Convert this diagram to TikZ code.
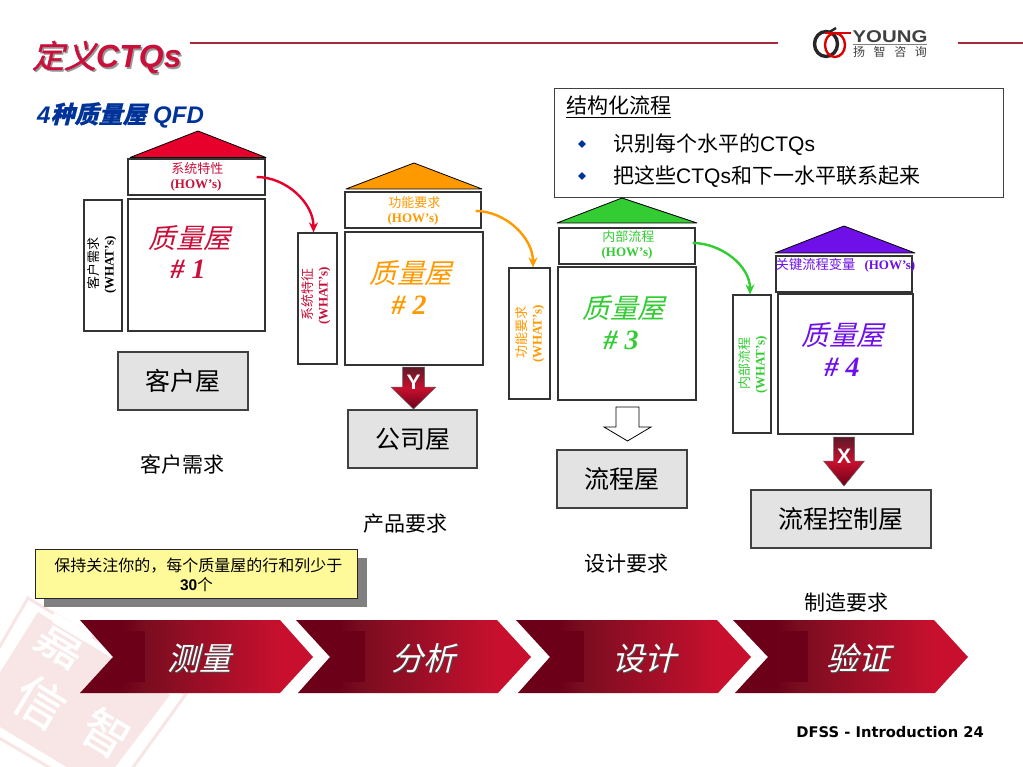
\documentclass[tikz,border=0pt]{standalone}
\usepackage{fontspec}
\usetikzlibrary{calc,arrows.meta}
\setmainfont{Liberation Sans}
\newfontfamily\cjk{Noto Sans CJK SC}
\newfontfamily\cjkit[FakeSlant=0.25]{Noto Sans CJK SC}
\newfontfamily\cjkbi[FakeSlant=0.25,FakeBold=1.5]{Noto Sans CJK SC}
\newfontfamily\cjksub[FakeSlant=0.25,FakeBold=0.6]{Noto Sans CJK SC}
\newfontfamily\cjkb[FakeBold=1]{Noto Sans CJK SC}
\newfontfamily\serifb[BoldFont={Liberation Serif Bold}]{Liberation Serif}
\newfontfamily\vera{DejaVu Sans}
\newcommand{\fs}[1]{\fontsize{#1}{#1}\selectfont}
\definecolor{qred}{HTML}{C8103A}
\definecolor{qorange}{HTML}{FF9900}
\definecolor{qgreen}{HTML}{33CC33}
\definecolor{qpurple}{HTML}{7010E8}
\definecolor{roofred}{HTML}{E8002D}
\definecolor{qblue}{HTML}{003399}
\definecolor{chd}{HTML}{6B0018}
\definecolor{chm}{HTML}{7A0D20}
\definecolor{chb}{HTML}{C8102E}
\definecolor{stamp}{HTML}{F8E6E6}
\definecolor{rule}{HTML}{A82A38}
\pgfdeclarehorizontalshading{chev}{100bp}{color(0bp)=(chd); color(34bp)=(chd); color(39bp)=(chm); color(68bp)=(chb); color(100bp)=(chb)}
\tikzset{
  rect/.style={draw=black!80,line width=1.2pt,fill=white,inner sep=0pt,align=center},
  grayhouse/.style={draw=black!75,line width=1.2pt,fill=black!11,inner sep=0pt,font=\cjk\fs{25}},
  howlabel/.style={inner sep=0pt,align=center,font=\fs{13}},
  whatlabel/.style={inner sep=0pt,align=center,rotate=90,font=\fs{13}},
  qfdname/.style={inner sep=0pt,font=\cjkit\fs{27.5}},
  qfdnum/.style={inner sep=0pt,font=\serifb\bfseries\itshape\fs{28}},
  caption/.style={inner sep=0pt,font=\cjk\fs{21}},
  roof/.style={draw=black,line width=0.8pt,line join=round},
  curved/.style={line width=2.4pt,-{Stealth[length=10pt,width=9pt]}},
  fatred/.style={draw=black!60,line width=.5pt,top color=chd!70!black!90,bottom color=chd,middle color=chb},
  fatletter/.style={inner sep=0pt,text=white,font=\bfseries\fs{21}},
  chevfill/.style={shading=chev,shading angle=0},
  chevtext/.style={inner sep=0pt,text=white,font=\cjkit\fs{32}},
  chevshadow/.style={inner sep=0pt,text=black!70,font=\cjkit\fs{32}},
  bullet/.style={fill=qblue,inner sep=0pt,rotate=45,minimum width=5.5pt,minimum height=5.5pt},
}
\begin{document}
\begin{tikzpicture}[x=1pt,y=-1pt]
\useasboundingbox (0,0) rectangle (1023,767);
\fill[white] (0,0) rectangle (1023,767);
% watermark stamp
\begin{scope}
\clip (0,0) rectangle (1023,767);
\draw[stamp,line width=3pt] (28,598) -- (186,694) -- (108,802) -- (-40,715) -- cycle;
\fill[stamp] (38,612) -- (170,695) -- (100,787) -- (-25,712) -- cycle;
\node[rotate=-31,text=white,font=\cjkb\fs{50}] (wm1) at (63,641) {嘉};
\node[rotate=-31,text=white,font=\cjkb\fs{50}] (wm2) at (40,702) {信};
\node[rotate=-31,text=white,font=\cjkb\fs{46}] (wm3) at (106,733) {智};
\end{scope}
% title
\draw[rule,line width=2pt] (190,43) -- (778,43);
\draw[rule,line width=2pt] (958,43) -- (1023,43);
\node[anchor=west,inner sep=0pt,text=black!40] (titleshadow) at (33.5,59) {\cjkbi\fs{32}定义\rmfamily\bfseries\itshape CTQs};
\node[anchor=west,inner sep=0pt,text=qred] (title) at (32,57.5) {\cjkbi\fs{32}定义\rmfamily\bfseries\itshape CTQs};
\node[anchor=west,inner sep=0pt,text=qblue] (sub) at (37,115) {\fs{24}\bfseries\itshape 4{\cjksub 种质量屋} QFD};
% logo
\draw[black!85,line width=3.4pt] (826,44) ellipse (11.5 and 12.5);
\draw[black!85,line width=2.4pt] (828,33) -- (836,28);
\draw[red!85!black,line width=2.4pt] (835,45) ellipse (10 and 12);
\draw[red!85!black,line width=2.4pt] (825,33) -- (851,33);
\node[inner sep=0pt,text=black!75,xscale=1.2,font=\bfseries\fs{17}] (young) at (890,37) {YOUNG};
\draw[black!50,line width=.6pt] (853,44.5) -- (927,44.5);
\node[inner sep=0pt,text=black!75,font=\cjk\fs{12}] (yz) at (890,52) {扬\hspace{8.6pt}智\hspace{8.6pt}咨\hspace{8.6pt}询};
% structured process box
\node[draw=black!75,line width=.9pt,fill=white,minimum width=449pt,minimum height=109pt,inner sep=0pt] (sbox) at (778.5,142.5) {};
\node[anchor=west,inner sep=0pt,font=\cjk\fs{21}] (shead) at (566,107) {\underline{结构化流程}};
\node[bullet] (b1) at (582,144) {};
\node[bullet] (b2) at (582,176) {};
\node[anchor=west,inner sep=0pt,font=\fs{21}] (l1) at (613,145) {{\cjk 识别每个水平的}CTQs};
\node[anchor=west,inner sep=0pt,font=\fs{21}] (l2) at (613,177) {{\cjk 把这些}CTQs{\cjk 和下一水平联系起来}};
% houses
\draw[roof,fill=roofred] (130,157.5) -- (198,131) -- (266,157.5) -- cycle;
\draw[roof,fill=qorange] (346,189) -- (414,163) -- (482,189) -- cycle;
\draw[roof,fill=qgreen] (557,223) -- (622,198) -- (697,223) -- cycle;
\draw[roof,fill=qpurple] (775,253) -- (844,226) -- (915,253) -- cycle;

\node[rect,minimum width=137pt,minimum height=36pt] (how1) at (196.5,177) {};
\node[rect,minimum width=137pt,minimum height=132pt] (main1) at (196.5,265) {};
\node[rect,minimum width=38pt,minimum height=131pt] (what1) at (103,265.5) {};
\node[rect,minimum width=136pt,minimum height=36pt] (how2) at (413,210) {};
\node[rect,minimum width=138pt,minimum height=133pt] (main2) at (414,298.5) {};
\node[rect,minimum width=39pt,minimum height=131pt] (what2) at (317.5,298.5) {};
\node[rect,minimum width=136pt,minimum height=36pt] (how3) at (627,246) {};
\node[rect,minimum width=138pt,minimum height=133pt] (main3) at (627,333.5) {};
\node[rect,minimum width=41pt,minimum height=131pt] (what3) at (529.5,333.5) {};
\node[rect,minimum width=136pt,minimum height=36pt] (how4) at (844,274) {};
\node[rect,minimum width=135pt,minimum height=140pt] (main4) at (845.5,364) {};
\node[rect,minimum width=38pt,minimum height=138pt] (what4) at (752,364) {};

\node[howlabel,text=qred] (h1t) at (196,177) {{\cjk\fs{13} 系统特性}\\[2pt]{\serifb\bfseries (HOW’s)}};
\node[howlabel,text=qorange] (h2t) at (413,211) {{\cjk\fs{13} 功能要求}\\[2pt]{\serifb\bfseries (HOW’s)}};
\node[howlabel,text=qgreen] (h3t) at (627,245) {{\cjk\fs{13} 内部流程}\\[2pt]{\serifb\bfseries (HOW’s)}};
\node[howlabel,text=qpurple] (h4t) at (844,265) {{\cjk\fs{13.3} 关键流程变量}\hspace{9pt}{\serifb\bfseries (HOW’s)}};

\node[whatlabel,text=black] (w1t) at (102,265) {{\cjk\fs{13} 客户需求}\\[2pt]{\serifb\bfseries (WHAT’s)}};
\node[whatlabel,text=qred] (w2t) at (316,296) {{\cjk\fs{13} 系统特征}\\[2pt]{\serifb\bfseries (WHAT’s)}};
\node[whatlabel,text=qorange] (w3t) at (530,334) {{\cjk\fs{13} 功能要求}\\[2pt]{\serifb\bfseries (WHAT’s)}};
\node[whatlabel,text=qgreen] (w4t) at (753,365) {{\cjk\fs{13} 内部流程}\\[2pt]{\serifb\bfseries (WHAT’s)}};

\node[qfdname,text=qred] (q1) at (190,238) {质量屋};
\node[qfdnum,text=qred] (n1) at (188,269) {\# 1};
\node[qfdname,text=qorange] (q2) at (411,273) {质量屋};
\node[qfdnum,text=qorange] (n2) at (409,305) {\# 2};
\node[qfdname,text=qgreen] (q3) at (624,308) {质量屋};
\node[qfdnum,text=qgreen] (n3) at (621,340) {\# 3};
\node[qfdname,text=qpurple] (q4) at (843,335) {质量屋};
\node[qfdnum,text=qpurple] (n4) at (842,367) {\# 4};

% curved connectors
\coordinate (c1s) at ($(how1.east)+(-9,0)$);
\coordinate (c1e) at ($(what2.north)+(-4,0)$);
\coordinate (c2s) at ($(how2.east)+(-6,1)$);
\coordinate (c2e) at ($(what3.north)+(3.5,0)$);
\coordinate (c3s) at ($(how3.east)+(-3,-3)$);
\coordinate (c3e) at ($(what4.north)+(-2,0)$);
\draw[curved,roofred] (c1s) to[out=0,in=90,looseness=.95] (c1e);
\draw[curved,qorange] (c2s) to[out=0,in=90,looseness=.95] (c2e);
\draw[curved,qgreen] (c3s) to[out=0,in=90,looseness=.95] (c3e);

% gray houses
\node[grayhouse,minimum width=130pt,minimum height=58pt] (g1) at (183,381) {客户屋};
\node[grayhouse,minimum width=129pt,minimum height=58pt] (g2) at (412.5,439) {公司屋};
\node[grayhouse,minimum width=130pt,minimum height=58pt] (g3) at (622,479) {流程屋};
\node[grayhouse,minimum width=180pt,minimum height=58pt] (g4) at (841,519) {流程控制屋};

% fat arrows
\draw[fatred] (402.5,367) -- (424.5,367) -- (424.5,387) -- (436,387) -- (413.5,409) -- (391,387) -- (402.5,387) -- cycle;
\node[fatletter] (a2t) at (413.5,382) {Y};
\draw[draw=black,line width=.8pt,fill=white] (616,407) -- (639,407) -- (639,427) -- (651,427) -- (627.5,441) -- (604,427) -- (616,427) -- cycle;
\draw[fatred] (833.5,437) -- (854.5,437) -- (854.5,461) -- (864.5,461) -- (844,486) -- (823.5,461) -- (833.5,461) -- cycle;
\node[fatletter] (a4t) at (844,456) {X};

% captions
\node[caption] (c1) at (182,464) {客户需求};
\node[caption] (c2) at (405,524) {产品要求};
\node[caption] (c3) at (626,564) {设计要求};
\node[caption] (c4) at (846,603) {制造要求};

% note
\fill[black!50] (44,558) rectangle (367,607);
\node[draw=black!85,line width=1pt,fill=yellow!40!white,minimum width=322pt,minimum height=49pt,inner sep=0pt,align=center] (note) at (196,573.5) {};
\node[inner sep=0pt,align=center] (notet) at (196.5,574.5) {{\cjk\fs{16} 保持关注你的，每个质量屋的行和列少于}\\[3pt]{\fs{15.5}\bfseries 30{\cjk\mdseries 个}}};

% chevrons
\path[chevfill] (80,620) -- (280,620) -- (313,657) -- (280,693) -- (80,693) -- (113,657) -- cycle;
\fill[chd] (118,631) rectangle (145,682);
\path[chevfill] (296,620) -- (497,620) -- (531,657) -- (498,693) -- (298,693) -- (330,657) -- cycle;
\fill[chd] (337,631) rectangle (365,682);
\path[chevfill] (516,620) -- (717,620) -- (751,657) -- (718,693) -- (518,693) -- (550,657) -- cycle;
\fill[chd] (552,631) rectangle (584,682);
\path[chevfill] (733,620) -- (934,620) -- (968,657) -- (935,693) -- (735,693) -- (768,657) -- cycle;
\fill[chd] (780,631) rectangle (808,682);
\node[chevshadow] (s1s) at (200.5,659.5) {测量};
\node[chevtext] (s1) at (199,658) {测量};
\node[chevshadow] (s2s) at (424.5,659.5) {分析};
\node[chevtext] (s2) at (423,658) {分析};
\node[chevshadow] (s3s) at (645.5,659.5) {设计};
\node[chevtext] (s3) at (644,658) {设计};
\node[chevshadow] (s4s) at (859.5,659.5) {验证};
\node[chevtext] (s4) at (858,658) {验证};

% footer
\node[anchor=east,inner sep=0pt,font=\vera\bfseries\fs{14.7}] (foot) at (984,732) {DFSS - Introduction 24};
\end{tikzpicture}
\end{document}
